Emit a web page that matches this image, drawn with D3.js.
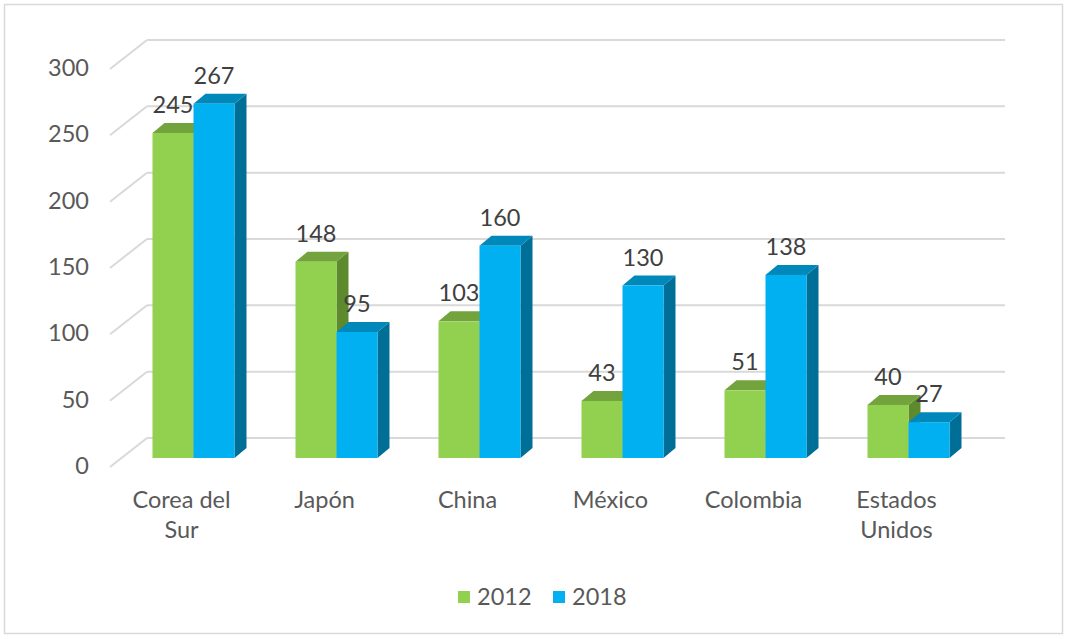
<!DOCTYPE html>
<html>
<head>
<meta charset="utf-8">
<script src="https://cdn.jsdelivr.net/npm/d3@7"></script>
<style>
  body { margin: 0; background: #fff; }
  text { font-family: Lato, "Open Sans", sans-serif; fill: #595959; }
</style>
</head>
<body>
<svg id="chart" width="1068" height="639"></svg>
<script>
// data
const categories = [["Corea del", "Sur"], ["Japón"], ["China"], ["México"], ["Colombia"], ["Estados", "Unidos"]];
const series = ["2012", "2018"];
const values2012 = [245, 148, 103, 43, 51, 40];
const values2018 = [267, 95, 160, 130, 138, 27];
const yTicks = [0, 50, 100, 150, 200, 250, 300];

const colors = {
  "2012": { front: "#92d050", top: "#72a33c", side: "#5e8a2e" },
  "2018": { front: "#00b0f0", top: "#0088bb", side: "#006f98" }
};

const depth = { dx: 12, dy: -10 }; // bar depth offset
const floorY = 458;
const fontSize = "23.5px";

const svg = d3.select("#chart");

// outer frame
svg.append("rect")
  .attr("x", 4.5).attr("y", 4.5)
  .attr("width", 1058).attr("height", 629)
  .attr("fill", "#fff")
  .attr("stroke", "#d9d9d9")
  .attr("stroke-width", 1.5);

const names = categories.map(c => c.join(" "));

const y = d3.scaleLinear().domain([0, 300]).range([floorY, floorY - 398]);
const x = d3.scaleBand().domain(names).range([122, 980]);
const xSub = d3.scaleBand().domain(series).range([0, 82]);
const groupOffset = (x.bandwidth() - 82) / 2;

// gridlines: back wall + left floor diagonal
const grid = svg.append("g");
yTicks.forEach(t => {
  const yy = y(t);
  grid.append("line")
    .attr("x1", 147).attr("x2", 1005)
    .attr("y1", yy - 20).attr("y2", yy - 20)
    .attr("stroke", "#d9d9d9").attr("stroke-width", 2);
  grid.append("line")
    .attr("x1", 110).attr("y1", yy + 9)
    .attr("x2", 147).attr("y2", yy - 20)
    .attr("stroke", "#d9d9d9").attr("stroke-width", 2);
  grid.append("text")
    .attr("x", 89).attr("y", yy + 16)
    .attr("text-anchor", "end")
    .style("font-size", fontSize)
    .text(t);
});

// bars
const bars = svg.append("g");
function drawBar(cat, s, v) {
  const x0 = x(cat) + groupOffset + xSub(s);
  const x1 = x0 + xSub.bandwidth();
  const top = y(v), bot = y(0);
  const c = colors[s];
  const pts = p => p.map(d => d.join(",")).join(" ");
  bars.append("polygon")
    .attr("points", pts([[x1, top], [x1 + depth.dx, top + depth.dy], [x1 + depth.dx, bot + depth.dy], [x1, bot]]))
    .attr("fill", c.side);
  bars.append("polygon")
    .attr("points", pts([[x0, top], [x0 + depth.dx, top + depth.dy], [x1 + depth.dx, top + depth.dy], [x1, top]]))
    .attr("fill", c.top);
  bars.append("rect")
    .attr("x", x0).attr("y", top)
    .attr("width", x1 - x0).attr("height", bot - top)
    .attr("fill", c.front);
  svg.append("text")
    .attr("x", (x0 + x1) / 2).attr("y", top - 20)
    .attr("text-anchor", "middle")
    .style("font-size", fontSize)
    .style("fill", "#404040")
    .text(v);
}

names.forEach((cat, i) => {
  drawBar(cat, "2012", values2012[i]);
  drawBar(cat, "2018", values2018[i]);
});

// category labels
categories.forEach((lines, i) => {
  const cx = x(names[i]) + x.bandwidth() / 2 - 12;
  const t = svg.append("text")
    .attr("text-anchor", "middle")
    .style("font-size", fontSize);
  lines.forEach((ln, j) => {
    t.append("tspan").attr("x", cx).attr("y", 508 + j * 30).text(ln);
  });
});

// legend
const legend = svg.append("g");
const legendX = [458, 553];
series.forEach((s, i) => {
  legend.append("rect")
    .attr("x", legendX[i]).attr("y", 591)
    .attr("width", 12).attr("height", 12)
    .attr("fill", colors[s].front);
  legend.append("text")
    .attr("x", legendX[i] + 19).attr("y", 605)
    .style("font-size", fontSize)
    .text(s);
});
</script>
</body>
</html>
